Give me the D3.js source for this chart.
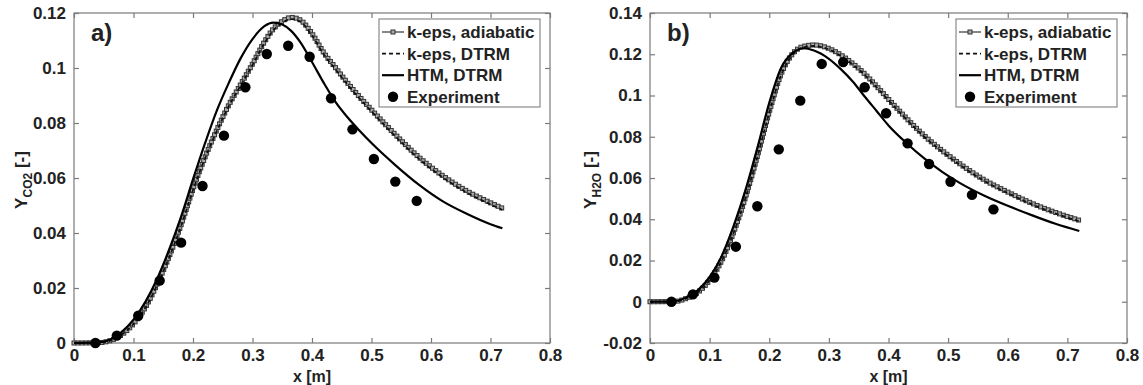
<!DOCTYPE html>
<html><head><meta charset="utf-8">
<script src="https://cdn.jsdelivr.net/npm/d3@7"></script>
<style>body{margin:0;background:#fff}svg{display:block}text{font-family:"Liberation Sans",Arial,sans-serif}</style>
</head><body><svg id="c" width="1143" height="385"></svg>
<script>
// ---- data ----
const xTicks=[0,0.1,0.2,0.3,0.4,0.5,0.6,0.7,0.8];
const xTickLabels=["0","0.1","0.2","0.3","0.4","0.5","0.6","0.7","0.8"];
const yTicksA=[0,0.02,0.04,0.06,0.08,0.1,0.12];
const yTickLabelsA=["0","0.02","0.04","0.06","0.08","0.1","0.12"];
const yTicksB=[-0.02,0,0.02,0.04,0.06,0.08,0.1,0.12,0.14];
const yTickLabelsB=["-0.02","0","0.02","0.04","0.06","0.08","0.1","0.12","0.14"];
const seriesNames=["k-eps, adiabatic","k-eps, DTRM","HTM, DTRM","Experiment"];

const expX=[0.036,0.072,0.108,0.144,0.180,0.216,0.252,0.288,0.324,0.360,0.396,0.432,0.468,0.504,0.540,0.576];
const expCO2=[0,0.0027,0.0099,0.0227,0.0365,0.0571,0.0754,0.093,0.1051,0.1081,0.1041,0.089,0.0777,0.0669,0.0587,0.0517];
const expH2O=[0,0.0036,0.0117,0.0267,0.0463,0.0739,0.0975,0.1153,0.1162,0.104,0.0914,0.0768,0.0668,0.0582,0.0518,0.0448];

const xCO2=[0,0.04,0.06,0.08,0.1,0.12,0.14,0.16,0.18,0.2,0.22,0.24,0.26,0.28,0.3,0.32,0.335,0.35,0.365,0.38,0.4,0.42,0.44,0.46,0.48,0.5,0.54,0.58,0.62,0.66,0.7,0.72];
const adiabCO2=[0,0.0001,0.0008,0.003,0.007,0.013,0.0215,0.0315,0.043,0.056,0.0675,0.0775,0.0865,0.094,0.1015,0.1095,0.1142,0.117,0.1184,0.1175,0.1125,0.1055,0.1,0.0945,0.0895,0.0848,0.0758,0.0675,0.0608,0.0553,0.051,0.049];
const dtrmCO2=[0,0.0001,0.0008,0.003,0.0069,0.0128,0.0212,0.0311,0.0426,0.0556,0.0671,0.0771,0.0861,0.0936,0.1011,0.109,0.1137,0.1164,0.1178,0.1169,0.1119,0.1049,0.0994,0.0939,0.0889,0.0842,0.0752,0.0669,0.0602,0.0547,0.0504,0.0484];
const htmCO2=[0,0.0002,0.0012,0.004,0.0085,0.015,0.0235,0.034,0.046,0.0595,0.0725,0.0845,0.0945,0.1035,0.1105,0.1152,0.1165,0.1158,0.1135,0.1095,0.1022,0.0945,0.0875,0.082,0.0772,0.0727,0.0647,0.0575,0.0515,0.047,0.0432,0.0417];

const xH2O=[0,0.04,0.06,0.08,0.1,0.12,0.14,0.16,0.18,0.2,0.22,0.24,0.257,0.275,0.3,0.32,0.34,0.36,0.38,0.4,0.43,0.46,0.49,0.52,0.56,0.6,0.64,0.68,0.72];
const adiabH2O=[0,0.0001,0.0015,0.0045,0.0105,0.0198,0.0335,0.0505,0.0705,0.092,0.1105,0.1205,0.1238,0.1245,0.1228,0.1197,0.1155,0.1105,0.1045,0.0982,0.089,0.0805,0.0733,0.0668,0.0592,0.0532,0.0478,0.0433,0.0395];
const dtrmH2O=[0,0.0001,0.0015,0.0045,0.0104,0.0196,0.0332,0.0502,0.0701,0.0916,0.11,0.12,0.1233,0.124,0.1223,0.1192,0.115,0.11,0.104,0.0977,0.0885,0.08,0.0728,0.0663,0.0587,0.0527,0.0473,0.0428,0.039];
const htmH2O=[0,0.0002,0.002,0.0055,0.012,0.022,0.0365,0.054,0.0745,0.0965,0.1135,0.1208,0.1229,0.1218,0.1178,0.1128,0.1068,0.0995,0.0925,0.0855,0.077,0.0695,0.063,0.0575,0.0515,0.0465,0.042,0.0378,0.0343];

// ---- drawing ----
const svg=d3.select("#c");
svg.append("rect").attr("width",1143).attr("height",385).attr("fill","#fff");

function panel(cfg){
  const x=d3.scaleLinear().domain([0,0.8]).range([cfg.left,cfg.right]);
  const y=d3.scaleLinear().domain(cfg.yDomain).range([343,13]);
  const g=svg.append("g");
  const frameCol="#7a7a7a";
  g.append("rect").attr("x",cfg.left).attr("y",13).attr("width",cfg.right-cfg.left).attr("height",330)
    .attr("fill","none").attr("stroke",frameCol).attr("stroke-width",1.2);
  const ax=(gen,tr)=>{const a=g.append("g").attr("transform",tr).call(gen);
    a.select(".domain").remove(); a.selectAll("line").attr("stroke",frameCol).attr("stroke-width",1.2); return a;};
  const bot=ax(d3.axisBottom(x).tickValues(xTicks).tickSizeInner(-5).tickSizeOuter(0).tickPadding(6)
      .tickFormat((d,i)=>xTickLabels[i]),`translate(0,343)`);
  bot.selectAll("text").attr("font-size",17).attr("font-weight","bold").attr("fill","#222")
    .attr("font-family","'Liberation Sans',Arial,sans-serif");
  ax(d3.axisTop(x).tickValues(xTicks).tickSizeInner(-5).tickSizeOuter(0).tickFormat(""),`translate(0,13)`);
  const lft=ax(d3.axisLeft(y).tickValues(cfg.yTicks).tickSizeInner(-5).tickSizeOuter(0).tickPadding(8)
      .tickFormat((d,i)=>cfg.yLabels[i]),`translate(${cfg.left},0)`);
  lft.selectAll("text").attr("font-size",17).attr("font-weight","bold").attr("fill","#222")
    .attr("font-family","'Liberation Sans',Arial,sans-serif");
  ax(d3.axisRight(y).tickValues(cfg.yTicks).tickSizeInner(-5).tickSizeOuter(0).tickFormat(""),`translate(${cfg.right},0)`);

  const line=d3.line().x(d=>x(d[0])).y(d=>y(d[1])).curve(d3.curveMonotoneX);
  const pts=(xs,ys)=>xs.map((v,i)=>[v,ys[i]]);

  // adiabatic: grey line with square markers
  const ad=g.append("path").attr("d",line(pts(cfg.xs,cfg.adiab))).attr("fill","none").attr("stroke","#444").attr("stroke-width",1.3);
  const node=ad.node(), L=node.getTotalLength();
  const mk=[]; for(let s=0;s<=L;s+=4){mk.push(node.getPointAtLength(s));}
  g.append("g").selectAll("rect").data(mk).join("rect")
    .attr("x",p=>p.x-2).attr("y",p=>p.y-2).attr("width",4).attr("height",4)
    .attr("fill","#aaa").attr("stroke","#333").attr("stroke-width",1);
  // DTRM dashed
  g.append("path").attr("d",line(pts(cfg.xs,cfg.dtrm))).attr("fill","none").attr("stroke","#111")
    .attr("stroke-width",1.8).attr("stroke-dasharray","4,3");
  // HTM solid
  g.append("path").attr("d",line(pts(cfg.xs,cfg.htm))).attr("fill","none").attr("stroke","#000").attr("stroke-width",2.2);
  // experiment
  g.append("g").selectAll("circle").data(pts(expX,cfg.exp)).join("circle")
    .attr("cx",d=>x(d[0])).attr("cy",d=>y(d[1])).attr("r",5.2).attr("fill","#000");

  g.append("text").attr("x",cfg.left+17).attr("y",41).attr("font-family","'Liberation Serif','Times New Roman',serif")
    .attr("font-size",24).attr("font-weight","bold").attr("fill","#222").text(cfg.letter);

  g.append("text").attr("x",(cfg.left+cfg.right)/2).attr("y",382).attr("text-anchor","middle")
    .attr("font-size",16).attr("font-weight","bold").attr("fill","#222").text("x [m]");
  const yl=g.append("text").attr("transform",`translate(${cfg.ylx},180) rotate(-90)`).attr("text-anchor","middle")
    .attr("font-size",17).attr("font-weight","bold").attr("fill","#222");
  yl.append("tspan").text("Y");
  yl.append("tspan").attr("font-size",12).attr("dy",5).text(cfg.sub);
  yl.append("tspan").attr("dy",-5).text(" [-]");

  const lx=cfg.legX, ly=19;
  const lg=g.append("g");
  lg.append("rect").attr("x",lx).attr("y",ly).attr("width",161).attr("height",88)
    .attr("fill","#fff").attr("stroke","#8a8a8a").attr("stroke-width",1.2);
  const rows=lg.selectAll("g.row").data(seriesNames).join("g").attr("class","row")
    .attr("transform",(d,i)=>`translate(${lx},${ly+13+i*21.6})`);
  rows.append("text").attr("x",28).attr("y",6).attr("font-size",17).attr("font-weight","bold").attr("fill","#222").text(d=>d);
  rows.each(function(d,i){
    const r=d3.select(this);
    if(i===0){r.append("line").attr("x1",3).attr("x2",25).attr("stroke","#444").attr("stroke-width",1.3);
      r.append("rect").attr("x",12).attr("y",-2).attr("width",4).attr("height",4).attr("fill","#aaa").attr("stroke","#333").attr("stroke-width",1);}
    if(i===1){r.append("line").attr("x1",3).attr("x2",25).attr("stroke","#111").attr("stroke-width",1.8).attr("stroke-dasharray","4,3");}
    if(i===2){r.append("line").attr("x1",3).attr("x2",25).attr("stroke","#000").attr("stroke-width",2.2);}
    if(i===3){r.append("circle").attr("cx",14).attr("cy",0).attr("r",5.2).attr("fill","#000");}
  });
}

panel({left:74,right:550,yDomain:[0,0.12],yTicks:yTicksA,yLabels:yTickLabelsA,xs:xCO2,adiab:adiabCO2,dtrm:dtrmCO2,htm:htmCO2,exp:expCO2,letter:"a)",sub:"CO2",ylx:27,legX:379});
panel({left:650,right:1127,yDomain:[-0.02,0.14],yTicks:yTicksB,yLabels:yTickLabelsB,xs:xH2O,adiab:adiabH2O,dtrm:dtrmH2O,htm:htmH2O,exp:expH2O,letter:"b)",sub:"H2O",ylx:596,legX:956});
</script></body></html>
